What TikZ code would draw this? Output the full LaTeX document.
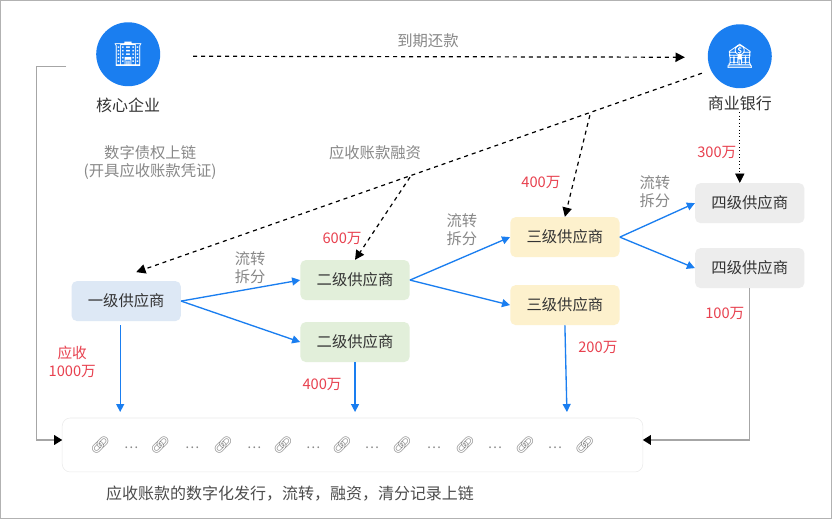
\documentclass[tikz,border=0pt]{standalone}
\usepackage{fontspec}
\setmainfont{Noto Sans CJK SC}
\newfontfamily\emo{Noto Emoji}
\usetikzlibrary{arrows.meta}
\definecolor{bl}{HTML}{1A7EF0}
\definecolor{rd}{HTML}{E8414F}
\definecolor{gt}{HTML}{888888}
\tikzset{x=0.75pt,y=-0.75pt,
 box/.style={rounded corners=4pt,minimum width=82pt,minimum height=30pt,font=\fontsize{11.5}{13}\selectfont,text=black!80},
 circ/.style={circle,fill=bl,minimum size=48pt,text=white,font=\emo\fontsize{18}{18}\selectfont},
 lab/.style={font=\fontsize{12}{14}\selectfont,text=black!80},
 glab/.style={font=\fontsize{11.5}{13.5}\selectfont,text=gt,align=center},
 rlab/.style={font=\fontsize{11}{13}\selectfont,text=rd,align=center},
 barr/.style={draw=bl,line width=1pt,-{Triangle[length=6pt,width=6pt]}},
 darr/.style={black,line width=0.9pt,dashed,-{Triangle[length=7pt,width=7pt]}},
 lnk/.style={font=\emo\fontsize{12}{12}\selectfont,text=gt},
 dots/.style={font=\fontsize{10}{10}\selectfont,text=gt}}
\begin{document}
\begin{tikzpicture}
\draw[gray!60,fill=white] (0,0) rectangle (832,518);
\node[circ] (core) at (128,54) {🏢};
\node[circ] (bank) at (740,56) {🏦};
\node[lab] (corel) at (128,105) {核心企业};
\node[lab] (bankl) at (740,103) {商业银行};
\node[glab] at (428,40) {到期还款};
\node[glab] at (375,152) {应收账款融资};
\node[glab] at (150,162) {数字债权上链\\(开具应收账款凭证)};
\node[box,fill={rgb,255:red,221;green,232;blue,245}] (s1) at (126,301) {一级供应商};
\node[box,fill={rgb,255:red,226;green,239;blue,218}] (s2a) at (355,280) {二级供应商};
\node[box,fill={rgb,255:red,226;green,239;blue,218}] (s2b) at (355,342) {二级供应商};
\node[box,fill={rgb,255:red,253;green,241;blue,205}] (s3a) at (565,237) {三级供应商};
\node[box,fill={rgb,255:red,253;green,241;blue,205}] (s3b) at (565,305) {三级供应商};
\node[box,fill=black!7] (s4a) at (750,203) {四级供应商};
\node[box,fill=black!7] (s4b) at (750,268) {四级供应商};
\draw[rounded corners=6pt,draw=black!8,fill=white] (62,418) rectangle (643,472);
\coordinate (chl) at (62,440);
\coordinate (chr) at (643,440);
\foreach \x in {100,160,223,283,342,402,465,525,585}{\node[lnk] at (\x,445) {🔗};}
\foreach \x in {131,192,254,313,372,434,495,555}{\node[dots] at (\x,448) {…};}
\node[font=\fontsize{12}{14}\selectfont,text=black!70] at (290,494) {应收账款的数字化发行，流转，融资，清分记录上链};
% dashed
\draw[darr] (193,56) -- (685,57);
\coordinate (b0) at (702,73);
\coordinate (j1) at (590,115);
\coordinate (j2) at (410,177);
\coordinate (bk) at (740,112);
\coordinate (c1) at (120,325);
\draw[darr] (b0) -- (136,272);
\draw[darr] (j1) -- (s3a.north);
\draw[darr] (j2) -- (s2a.north);
\draw[black,dotted,line width=0.6pt,-{Triangle[length=7pt,width=7pt]}] (bk) -- (s4a.north -| bk);
% blue
\draw[barr] (s1.east) -- (s2a.west);
\draw[barr] (s1.east) -- (s2b.west);
\draw[barr] (s2a.east) -- (s3a.west);
\draw[barr] (s2a.east) -- (s3b.west);
\draw[barr] (s3a.east) -- (s4a.west);
\draw[barr] (s3a.east) -- (s4b.west);
\draw[barr] (c1) -- (120,412);
\draw[barr] (s2b.south) -- (355,412);
\draw[barr] (s3b.south) -- (567,412);
% gray return lines
\draw[gray!70,line width=0.8pt] (66,66) -- (36,66) -- (36,440) -- (56,440);
\fill[black] (chl) -- (54,435) -- (54,445) -- cycle;
\draw[gray!70,line width=0.8pt] (s4b.south) -- (750,440) -- (651,440);
\fill[black] (chr) -- (651,435) -- (651,445) -- cycle;
% labels
\node[glab] at (250,268) {流转\\拆分};
\node[glab] at (462,230) {流转\\拆分};
\node[glab] at (655,192) {流转\\拆分};
\node[rlab] at (342,238) {600万};
\node[rlab] at (541,182) {400万};
\node[rlab] at (717,152) {300万};
\node[rlab] at (72,362) {应收\\1000万};
\node[rlab] at (322,384) {400万};
\node[rlab] at (598,347) {200万};
\node[rlab] at (725,313) {100万};
\end{tikzpicture}
\end{document}
